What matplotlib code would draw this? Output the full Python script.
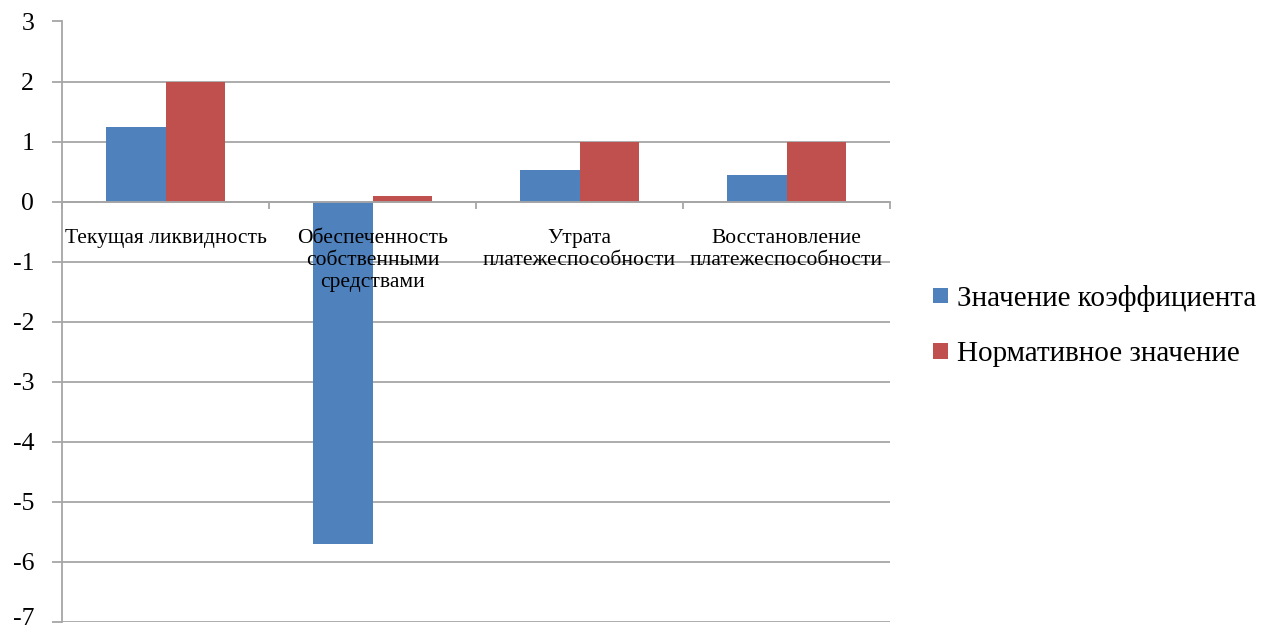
import matplotlib
matplotlib.use("Agg")
import matplotlib.pyplot as plt
import matplotlib.transforms as mtransforms
import numpy as np

categories = [
    "Текущая ликвидность",
    "Обеспеченность\nсобственными\nсредствами",
    "Утрата\nплатежеспособности",
    "Восстановление\nплатежеспособности",
]
coef_values = [1.25, -5.7, 0.52, 0.44]
norm_values = [2.0, 0.1, 1.0, 1.0]
series_names = ["Значение коэффициента", "Нормативное значение"]
y_ticks = [3, 2, 1, 0, -1, -2, -3, -4, -5, -6, -7]

plt.rcParams["font.family"] = ["Liberation Serif", "DejaVu Serif"]

W, H = 1261, 630
fig = plt.figure(figsize=(W / 100, H / 100), dpi=100)
left, right, top, bottom = 62, 890, 21.5, 622
ax = fig.add_axes([left / W, 1 - bottom / H, (right - left) / W, (bottom - top) / H])

blue = "#4F81BD"
red = "#C0504D"
grid_c = "#A6A6A6"

x = np.arange(len(categories))
group = 1 / 1.75
bw = group / 2
ax.bar(x - bw / 2, coef_values, bw, color=blue, label=series_names[0], zorder=2)
ax.bar(x + bw / 2, norm_values, bw, color=red, label=series_names[1], zorder=2)

ax.set_xlim(-0.5, len(categories) - 0.5)
ax.set_ylim(-7, 3)
ax.set_yticks(y_ticks)
ax.set_yticklabels([str(v) if v >= 0 else "-" + str(-v) for v in y_ticks])
ax.yaxis.grid(True, color=grid_c, linewidth=1.3)
# gridlines under the bars, category labels over them
ax.yaxis.set_zorder(0.5)
ax.xaxis.set_zorder(4)

for s in ["top", "right"]:
    ax.spines[s].set_visible(False)
ax.spines["left"].set_color(grid_c)
ax.spines["left"].set_linewidth(1.3)
ax.spines["bottom"].set_position(("data", 0))
ax.spines["bottom"].set_color(grid_c)
ax.spines["bottom"].set_linewidth(1.3)
ax.spines["bottom"].set_zorder(3)

ax.tick_params(axis="y", direction="out", length=7, width=1.3, color=grid_c,
               pad=13, labelsize=18.5)

# keep the lowest value label inside the canvas
fig.canvas.draw()
low_label = ax.get_yticklabels()[-1]
low_label.set_transform(low_label.get_transform()
                        + mtransforms.ScaledTranslation(0, 4 / 72, fig.dpi_scale_trans))

ax.set_xticks(x)
ax.set_xticklabels(categories, fontsize=15.5, linespacing=1.2)
ax.tick_params(axis="x", which="major", length=0, pad=20)
ax.set_xticks(np.arange(len(categories) + 1) - 0.5, minor=True)
ax.tick_params(axis="x", which="minor", direction="out", length=5, width=1.3,
               color=grid_c)

fig.legend(loc="center left", bbox_to_anchor=(933 / W, 1 - 326 / H),
           frameon=False, fontsize=21, handlelength=0.52, handleheight=0.45,
           handletextpad=0.3, labelspacing=1.0, borderaxespad=0, borderpad=0)

fig.savefig("out.png", dpi=100)
